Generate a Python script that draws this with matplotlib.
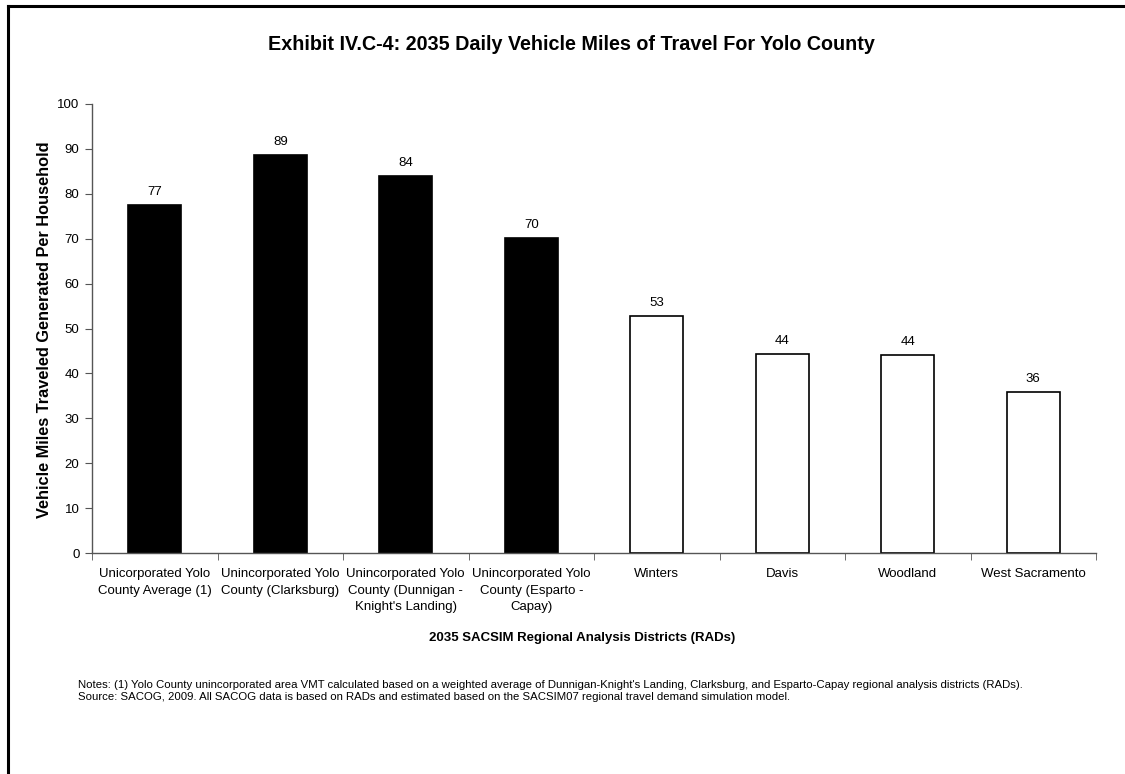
import matplotlib.pyplot as plt
from matplotlib.lines import Line2D
import numpy as np

plt.rcParams['font.family'] = ['Liberation Sans', 'DejaVu Sans']

districts = [
    "Unicorporated Yolo\nCounty Average (1)",
    "Unincorporated Yolo\nCounty (Clarksburg)",
    "Unincorporated Yolo\nCounty (Dunnigan -\nKnight's Landing)",
    "Unincorporated Yolo\nCounty (Esparto -\nCapay)",
    "Winters",
    "Davis",
    "Woodland",
    "West Sacramento",
]
vmt = [77.4, 88.7, 84.0, 70.1, 52.8, 44.3, 44.0, 35.8]
fills = ['black', 'black', 'black', 'black', 'white', 'white', 'white', 'white']

W, H = 1125, 774
fig = plt.figure(figsize=(W / 100, H / 100), dpi=100)
ax = fig.add_axes([92 / W, 1 - 553 / H, (1096 - 92) / W, (553 - 104) / H])

x = np.arange(len(vmt))
ax.bar(x, vmt, width=0.42, color=fills, edgecolor='black', linewidth=1.2)
for xi, v in zip(x, vmt):
    ax.text(xi, v + 1.6, f"{v:.0f}", ha='center', va='bottom', fontsize=9.5)

ax.set_xlim(-0.5, len(vmt) - 0.5)
ax.set_ylim(0, 100)
ax.set_yticks(range(0, 101, 10))
ax.set_xticks(x)
ax.set_xticklabels(districts, fontsize=9.5, linespacing=1.5)
ax.set_xticks(np.arange(-0.5, len(vmt)), minor=True)
ax.tick_params(axis='x', which='major', length=0, pad=11)
ax.tick_params(axis='x', which='minor', length=5, color='#555555')
ax.tick_params(axis='y', length=5, color='#555555', labelsize=9.5, pad=4)

for side in ['top', 'right']:
    ax.spines[side].set_visible(False)
for side in ['left', 'bottom']:
    ax.spines[side].set_color('#555555')
    ax.spines[side].set_linewidth(1.0)

fig.text(571 / W, 1 - 45 / H, "Exhibit IV.C-4: 2035 Daily Vehicle Miles of Travel For Yolo County",
         ha='center', va='center', fontsize=14.2, fontweight='bold')
fig.text(45 / W, 1 - 330 / H, "Vehicle Miles Traveled Generated Per Household",
         ha='center', va='center', rotation=90, fontsize=11.8, fontweight='bold')
fig.text(582 / W, 1 - 638 / H, "2035 SACSIM Regional Analysis Districts (RADs)",
         ha='center', va='center', fontsize=9.5, fontweight='bold')

notes = ("Notes: (1) Yolo County unincorporated area VMT calculated based on a weighted average of "
         "Dunnigan-Knight's Landing, Clarksburg, and Esparto-Capay regional analysis districts (RADs).\n"
         "Source: SACOG, 2009. All SACOG data is based on RADs and estimated based on the SACSIM07 "
         "regional travel demand simulation model.")
fig.text(78 / W, 1 - 691.5 / H, notes, ha='left', va='center', fontsize=8.2, linespacing=1.25)

# outer frame (only left and top edges show in the cropped exhibit)
fig.add_artist(Line2D([8 / W, 8 / W], [0, 1 - 6 / H], color='black', linewidth=2.2))
fig.add_artist(Line2D([8 / W, 1], [1 - 6 / H, 1 - 6 / H], color='black', linewidth=2.2))

fig.savefig('out.png', dpi=100)
